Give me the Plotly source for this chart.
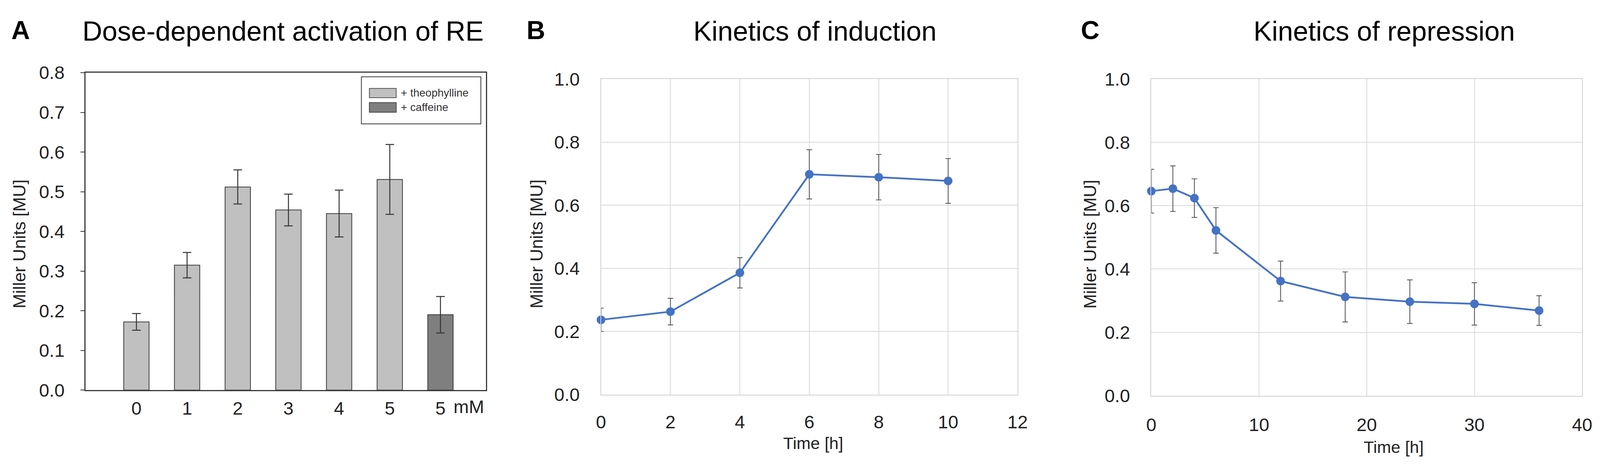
import plotly.graph_objects as go

# ---------------- data ----------------
dose_labels = ["0", "1", "2", "3", "4", "5"]
theo_values = [0.172, 0.315, 0.512, 0.454, 0.445, 0.531]
theo_err = [0.021, 0.032, 0.043, 0.040, 0.059, 0.088]
caff_label = "5"
caff_value = [0.190]
caff_err = [0.046]

ind_time = [0, 2, 4, 6, 8, 10]
ind_values = [0.237, 0.263, 0.386, 0.698, 0.689, 0.677]
ind_err = [0.037, 0.042, 0.048, 0.078, 0.072, 0.071]

rep_time = [0, 2, 4, 6, 12, 18, 24, 30, 36]
rep_values = [0.646, 0.654, 0.624, 0.522, 0.362, 0.312, 0.297, 0.290, 0.269]
rep_err = [0.069, 0.072, 0.061, 0.072, 0.063, 0.079, 0.069, 0.067, 0.047]

titles = ["Dose-dependent activation of RE", "Kinetics of induction", "Kinetics of repression"]
panel_letters = ["A", "B", "C"]
y_title = "Miller Units [MU]"
x_title = "Time [h]"

# ---------------- layout helpers ----------------
# reference layout measured on a 4550 x 1195 canvas; the browser viewport is 4096 wide,
# so the figure fills the viewport and positions are kept as fractions.
REF_W, REF_H = 4550, 1195
FIG_W, FIG_H = 4096, 1195
SX = FIG_W / REF_W
FONT = "Liberation Sans, Arial, sans-serif"
BLUE = "#4472C4"


def px(x):
    return x / REF_W


def py(y):
    return 1 - y / REF_H


fig = go.Figure()

theo_x = list(range(len(dose_labels)))
caff_x = [len(dose_labels)]

fig.add_trace(go.Bar(
    x=theo_x, y=theo_values, width=0.5, name="+ theophylline",
    marker=dict(color="#c0c0c0", line=dict(color="#3a3a3a", width=2)),
    error_y=dict(type="data", array=theo_err, color="#333333", thickness=2.5, width=11),
    xaxis="x", yaxis="y", showlegend=False,
))
fig.add_trace(go.Bar(
    x=caff_x, y=caff_value, width=0.5, name="+ caffeine",
    marker=dict(color="#7f7f7f", line=dict(color="#3a3a3a", width=2)),
    error_y=dict(type="data", array=caff_err, color="#333333", thickness=2.5, width=11),
    xaxis="x", yaxis="y", showlegend=False,
))

fig.add_trace(go.Scatter(
    x=ind_time, y=ind_values, mode="lines+markers",
    line=dict(color=BLUE, width=4.5), marker=dict(color=BLUE, size=22),
    error_y=dict(type="data", array=ind_err, color="#5a5a5a", thickness=2.2, width=7),
    xaxis="x2", yaxis="y2", showlegend=False, cliponaxis=False,
))
fig.add_trace(go.Scatter(
    x=rep_time, y=rep_values, mode="lines+markers",
    line=dict(color=BLUE, width=4.5), marker=dict(color=BLUE, size=22),
    error_y=dict(type="data", array=rep_err, color="#5a5a5a", thickness=2.2, width=7),
    xaxis="x3", yaxis="y3", showlegend=False, cliponaxis=False,
))

tickfont = dict(family=FONT, size=47, color="#222222")

layout = dict(
    width=FIG_W, height=FIG_H,
    margin=dict(l=0, r=0, t=0, b=0),
    paper_bgcolor="white", plot_bgcolor="white",
    barmode="overlay",
    font=dict(family=FONT),
    # Panel A
    xaxis=dict(
        domain=[px(222.6), px(1372)], range=[-1.0, 6.9],
        tickvals=theo_x + caff_x, ticktext=dose_labels + [caff_label],
        showgrid=False, zeroline=False, showline=True, mirror=True,
        linecolor="#3a3a3a", linewidth=2.5, ticks="", tickfont=tickfont,
        ticklabelstandoff=4, anchor="y",
    ),
    yaxis=dict(
        domain=[py(1008), py(158)], range=[0, 0.8], dtick=0.1, tickformat=".1f",
        showgrid=False, zeroline=False, showline=True, mirror=True,
        linecolor="#3a3a3a", linewidth=2.5, ticks="outside", ticklen=11,
        tickcolor="#3a3a3a", tickwidth=2, tickfont=tickfont,
        ticklabelstandoff=round(34 * SX), anchor="x",
    ),
    # Panel B
    xaxis2=dict(
        domain=[px(1702), px(2898)], range=[0, 12], dtick=2,
        showgrid=True, gridcolor="#d9d9d9", gridwidth=2, zeroline=False,
        showline=True, mirror=True, linecolor="#d0d0d0", linewidth=2,
        ticks="", tickfont=tickfont, ticklabelstandoff=28, anchor="y2",
    ),
    yaxis2=dict(
        domain=[py(1020), py(175)], range=[0, 1.0], dtick=0.2, tickformat=".1f",
        showgrid=True, gridcolor="#d9d9d9", gridwidth=2, zeroline=False,
        showline=True, mirror=True, linecolor="#d0d0d0", linewidth=2,
        ticks="", tickfont=tickfont, ticklabelstandoff=round(48 * SX), anchor="x2",
    ),
    # Panel C
    xaxis3=dict(
        domain=[px(3282), px(4519)], range=[0, 40], dtick=10,
        showgrid=True, gridcolor="#d9d9d9", gridwidth=2, zeroline=False,
        showline=True, mirror=True, linecolor="#d0d0d0", linewidth=2,
        ticks="", tickfont=tickfont, ticklabelstandoff=32, anchor="y3",
    ),
    yaxis3=dict(
        domain=[py(1023), py(175)], range=[0, 1.0], dtick=0.2, tickformat=".1f",
        showgrid=True, gridcolor="#d9d9d9", gridwidth=2, zeroline=False,
        showline=True, mirror=True, linecolor="#d0d0d0", linewidth=2,
        ticks="", tickfont=tickfont, ticklabelstandoff=round(48 * SX), anchor="x3",
    ),
)
fig.update_layout(**layout)

ann = []
# panel letters
for letter, cx in zip(panel_letters, [36, 1515, 3107]):
    ann.append(dict(text="<b>%s</b>" % letter, x=px(cx), y=py(44), xref="paper", yref="paper",
                    xanchor="center", yanchor="middle", showarrow=False,
                    font=dict(family=FONT, size=66, color="black")))
# titles
for t, cx in zip(titles, [789, 2316, 3951]):
    ann.append(dict(text=t, x=px(cx), y=py(47), xref="paper", yref="paper",
                    xanchor="center", yanchor="middle", showarrow=False,
                    font=dict(family=FONT, size=70, color="black")))
# y-axis titles
for cx in [32, 1517, 3106]:
    ann.append(dict(text=y_title, x=px(cx), y=py(617), xref="paper", yref="paper",
                    xanchor="center", yanchor="middle", textangle=-90, showarrow=False,
                    font=dict(family=FONT, size=45, color="#222222")))
# x-axis titles
for cx, cy in [(2311, 1150), (3978, 1160)]:
    ann.append(dict(text=x_title, x=px(cx), y=py(cy), xref="paper", yref="paper",
                    xanchor="center", yanchor="middle", showarrow=False,
                    font=dict(family=FONT, size=43, color="#222222")))
# unit label for panel A
ann.append(dict(text="mM", x=px(1276), y=py(1052), xref="paper", yref="paper",
                xanchor="left", yanchor="middle", showarrow=False,
                font=dict(family=FONT, size=47, color="#222222")))

# legend of panel A (box, swatches, labels)
shapes = [
    dict(type="rect", xref="paper", yref="paper", x0=px(1014), x1=px(1357), y0=py(295), y1=py(169),
         line=dict(color="#3a3a3a", width=2), fillcolor="white"),
    dict(type="rect", xref="paper", yref="paper", x0=px(1037), x1=px(1114), y0=py(225), y1=py(200),
         line=dict(color="#555555", width=2), fillcolor="#c0c0c0"),
    dict(type="rect", xref="paper", yref="paper", x0=px(1037), x1=px(1114), y0=py(264), y1=py(238),
         line=dict(color="#444444", width=2), fillcolor="#7f7f7f"),
]
for lab, cy in [("+ theophylline", 212), ("+ caffeine", 251)]:
    ann.append(dict(text=lab, x=px(1125), y=py(cy), xref="paper", yref="paper",
                    xanchor="left", yanchor="middle", showarrow=False,
                    font=dict(family=FONT, size=28, color="#333333")))

fig.update_layout(annotations=ann, shapes=shapes)

fig.write_html("out.html")
